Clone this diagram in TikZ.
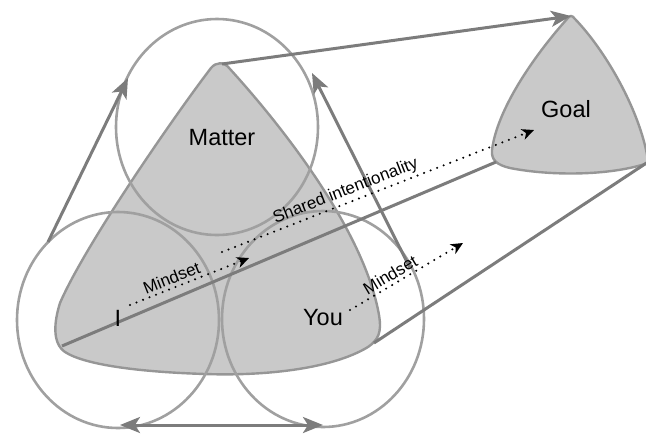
\documentclass[tikz,border=0pt]{standalone}
\usepackage{fontspec}
\setmainfont{Liberation Sans}
\usetikzlibrary{arrows.meta,shapes.geometric}
\definecolor{circ}{HTML}{A0A0A0}
\definecolor{edge}{HTML}{7C7C7C}
\definecolor{shade}{HTML}{C9C9C9}
\definecolor{shadeline}{HTML}{969696}
\begin{document}
\begin{tikzpicture}[x=1pt,y=-1pt,
  ring/.style={draw=circ, line width=2.6pt, ellipse, minimum width=202pt, minimum height=216pt, inner sep=0pt},
  blob/.style={fill=shade, draw=shadeline, line width=2.4pt},
  link/.style={draw=edge, line width=3pt},
  tip/.style={-{Stealth[length=20pt,width=16pt,inset=5pt]}},
  dtip/.style={{Stealth[length=20pt,width=16pt,inset=5pt]}-{Stealth[length=20pt,width=16pt,inset=5pt]}},
  dots/.style={black, line width=2.3pt, dash pattern=on 0pt off 7pt, line cap=round, -{Stealth[length=12pt,width=11pt,inset=3.5pt]}},
  big/.style={font=\fontsize{23.5}{28}\selectfont, inner sep=0pt},
  small/.style={font=\fontsize{17}{20}\selectfont, inner sep=2.5pt, sloped, anchor=south}
]
\useasboundingbox (0,0) rectangle (646,440);

% vertices
\coordinate (vM) at (222,64);
\coordinate (vI) at (62,346);
\coordinate (vY) at (374,343);
\coordinate (gT) at (571,16);
\coordinate (gL) at (496,162);
\coordinate (gR) at (648,162);

% shaded rounded triangle
\path[blob] (211,68) .. controls (216,62) and (224,61) .. (230,69)
  .. controls (290,135) and (365,235) .. (379,315)
  .. controls (382,333) and (378,340) .. (368,347)
  .. controls (330,370) and (260,376) .. (205,374)
  .. controls (140,372) and (85,365) .. (65,352)
  .. controls (52,343) and (54,322) .. (60,303)
  .. controls (85,245) and (175,115) .. (211,68) -- cycle;

% goal shape
\path[blob] (567,19) .. controls (533,57) and (497,110) .. (492,150)
  .. controls (491,160) and (497,165) .. (510,168)
  .. controls (550,176) and (610,176) .. (648,163)
  -- (648,160) .. controls (640,110) and (605,50) .. (575,19)
  .. controls (572,15) and (570,15) .. (567,19) -- cycle;

% circles
\node[ring] (cM) at (217,127) {};
\node[ring] (cI) at (118,320) {};
\node[ring] (cY) at (323,319) {};

% circle connectors
\coordinate (a1s) at (48,242);
\coordinate (a1e) at (128,78);
\coordinate (a2s) at (410,268);
\coordinate (a2e) at (312,73);
\coordinate (a3s) at (120,425);
\coordinate (a3e) at (323,425);
\draw[link,tip] (a1s) -- (a1e);
\draw[link,tip] (a2s) -- (a2e);
\draw[link,dtip] (a3s) -- (a3e);

% projection lines
\draw[link,tip] (vM) -- (gT);
\draw[link] (vI) -- (gL);
\draw[link] (vY) -- (gR);

% labels
\node[big] (matter) at (222,138) {Matter};
\node[big] (goal) at (566,109) {Goal};
\node[big] (i) at (118,318) {I};
\node[big] (you) at (323,318) {You};

% dotted arrows
\coordinate (d1s) at (130,305);
\coordinate (d1e) at (249,258);
\coordinate (d2s) at (222,252);
\coordinate (d2e) at (534,130);
\coordinate (d3s) at (350,310);
\coordinate (d3e) at (463,243);
\draw[dots] (d1s) -- node[small, pos=0.38] (m1) {Mindset} (d1e);
\draw[dots] (d2s) -- node[small, pos=0.41] (si) {Shared intentionality} (d2e);
\draw[dots] (d3s) -- node[small, pos=0.40] (m2) {Mindset} (d3e);
\end{tikzpicture}
\end{document}
